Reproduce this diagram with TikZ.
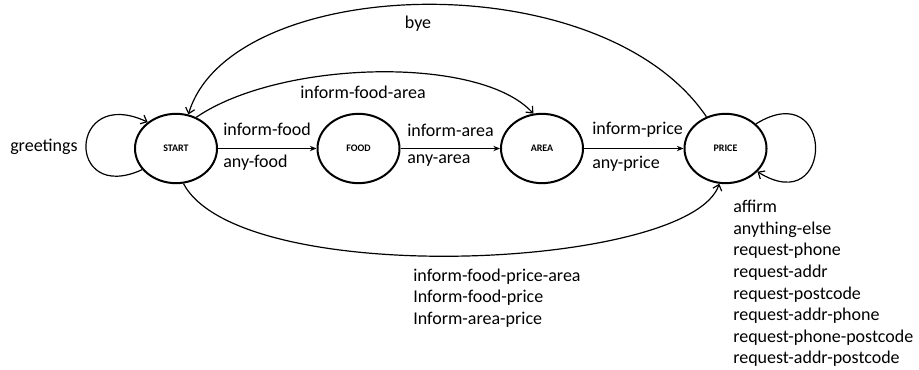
\documentclass[tikz,border=0pt]{standalone}
\usepackage{fontspec}
\setmainfont{Carlito}
\usetikzlibrary{arrows.meta,shapes.geometric}
\begin{document}
\begin{tikzpicture}[x=0.75pt,y=-0.75pt,
  state/.style={draw,line width=1.5pt,ellipse,minimum width=61.5pt,minimum height=52pt,inner sep=0pt,font=\fontsize{7.5}{8}\selectfont\bfseries},
  lbl/.style={inner sep=0pt,anchor=west,font=\fontsize{13.5}{15}\selectfont},
  edge/.style={line width=0.9pt,-{Stealth[length=5pt,width=4pt]}},
  cedge/.style={line width=0.9pt,-{Straight Barb[length=4pt,width=7pt]}}]
\useasboundingbox (0,0) rectangle (919,370);
\node[state] (start) at (176,148.5) {START};
\node[state] (food) at (358.5,148.5) {FOOD};
\node[state] (area) at (542,148.5) {AREA};
\node[state] (price) at (725.5,148.5) {PRICE};

\draw[edge] (start) -- (food);
\draw[edge] (food) -- (area);
\draw[edge] (area) -- (price);

\draw[cedge] (price.121) .. controls (600,-40) and (230,-25) .. (start.70);
\draw[cedge] (start.57) .. controls (280,60) and (480,55) .. (area.104);
\draw[cedge] (start.-78) .. controls (240,290) and (690,270) .. (price.260);
\draw[cedge] (start.212) .. controls (65,205) and (68,85) .. (start.137);
\draw[cedge] (price.39) .. controls (835,75) and (835,220) .. (price.-36);

\node[lbl] (l1) at (223,129) {inform-food};
\node[lbl] (l2) at (223,163) {any-food};
\node[lbl] (l3) at (407,130) {inform-area};
\node[lbl] (l4) at (407,161) {any-area};
\node[lbl] (l5) at (592,130) {inform-price};
\node[lbl] (l6) at (592,164) {any-price};
\node[lbl] (l7) at (300,92) {inform-food-area};
\node[lbl,anchor=center] (l8) at (418,24) {bye};
\node[lbl] (l9) at (10,147) {greetings};
\node[lbl,align=left,anchor=north west,font=\fontsize{13.5}{15.9}\selectfont] (l10) at (413,269) {inform-food-price-area\\Inform-food-price\\Inform-area-price};
\node[lbl,align=left,anchor=north west,font=\fontsize{13.5}{16.2}\selectfont] (l11) at (733,200) {affirm\\anything-else\\request-phone\\request-addr\\request-postcode\\request-addr-phone\\request-phone-postcode\\request-addr-postcode};
\end{tikzpicture}
\end{document}
